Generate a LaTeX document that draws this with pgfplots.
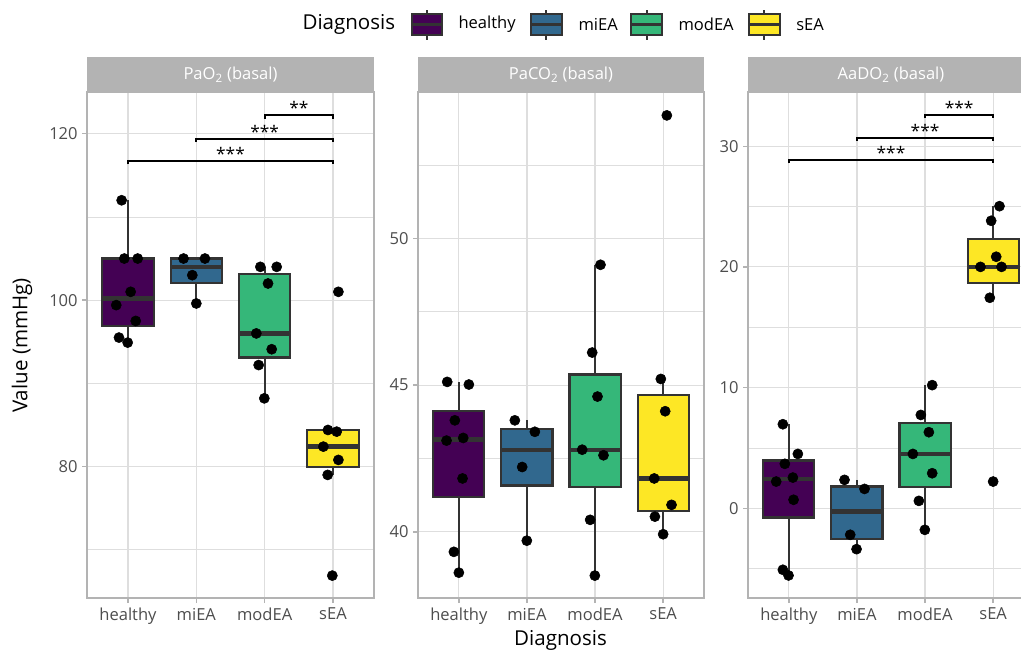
\documentclass[border=0pt]{standalone}
\usepackage{fontspec}
\setmainfont{Open Sans}
\usepackage{pgfplots}
\pgfplotsset{compat=1.18}
\usepgfplotslibrary{statistics}
\definecolor{c70}{HTML}{B3B3B3}
\definecolor{c87}{HTML}{DEDEDE}
\definecolor{c30}{HTML}{4D4D4D}
\definecolor{c20}{HTML}{333333}
\definecolor{vA}{HTML}{440154}
\definecolor{vB}{HTML}{31688E}
\definecolor{vC}{HTML}{35B779}
\definecolor{vD}{HTML}{FDE725}
\newcommand{\ticksize}{\fontsize{12.4}{14}\selectfont}
\newcommand{\titlesize}{\fontsize{15.4}{18}\selectfont}
\tikzset{st/.style={font=\fontsize{13}{15}\selectfont, anchor=base, inner sep=0pt, yshift=0.3pt}}
\pgfplotsset{
 panel/.style={
  scale only axis, anchor=south west, height=379.5pt,
  xmin=0.4, xmax=4.6, xtick={1,2,3,4}, xticklabels={healthy,miEA,modEA,sEA},
  axis line style={draw=c70, line width=1.5pt},
  xmajorgrids, ymajorgrids, yminorgrids,
  major grid style={draw=c87, line width=0.9pt},
  minor grid style={draw=c87, line width=0.5pt},
  tick align=outside, tick pos=left,
  major tick style={draw=c70, line width=1pt},
  major tick length=3.5pt, minor tick length=0pt,
  tick label style={font=\ticksize, text=c30},
  /pgf/number format/assume math mode=true,
  boxplot/draw direction=y,
  boxplot/box extend=0.75, boxplot/whisker extend=0,
  boxplot/every median/.style={line width=3.2pt},
 },
 bx/.style={draw=c20, line width=1.6pt, fill=#1, solid},
 pts/.style={only marks, mark=*, mark size=3.8pt, black},
 br/.style={black, line width=1.4pt},
}
\begin{document}
\begin{tikzpicture}
\path[use as bounding box, clip] (0,0) rectangle (765.75pt,489.75pt);
% ---------- Panel 1: PaO2 ----------
\begin{axis}[panel, at={(65.25pt,40.875pt)}, width=215.25pt,
  ymin=64.15, ymax=124.95, ytick={80,100,120}, minor ytick={70,90,110}]
\addplot[bx=vA, boxplot prepared={lower whisker=94.9, lower quartile=96.9, median=100.2, upper quartile=105.0, upper whisker=112.0, draw position=1}] coordinates {};
\addplot[bx=vB, boxplot prepared={lower whisker=99.6, lower quartile=102.1, median=104.0, upper quartile=105.0, upper whisker=105.0, draw position=2}] coordinates {};
\addplot[bx=vC, boxplot prepared={lower whisker=88.2, lower quartile=93.1, median=96.0, upper quartile=103.1, upper whisker=104.0, draw position=3}] coordinates {};
\addplot[bx=vD, boxplot prepared={lower whisker=79.0, lower quartile=79.9, median=82.4, upper quartile=84.4, upper whisker=84.4, draw position=4}] coordinates {};
\addplot[pts] coordinates {
 (0.907,112.0) (0.946,105.0) (1.142,105.0) (1.039,101.0) (0.828,99.4) (1.113,97.5) (0.868,95.5) (0.995,94.9)
 (1.813,105.0) (2.126,105.0) (1.941,103.0) (2.000,99.6)
 (2.937,104.0) (3.176,104.0) (3.049,102.0) (2.878,96.0) (3.103,94.1) (2.912,92.2) (2.995,88.2)
 (4.079,101.0) (3.926,84.4) (4.054,84.2) (3.859,82.4) (4.079,80.8) (3.922,79.0) (3.990,66.9)};
\addplot[br] coordinates {(3,121.8) (3,122.2) (4,122.2) (4,121.8)};
\addplot[br] coordinates {(2,119.0) (2,119.4) (4,119.4) (4,119.0)};
\addplot[br] coordinates {(1,116.3) (1,116.7) (4,116.7) (4,116.3)};
\node[st] at (axis cs:3.5,122.2) {**};
\node[st] at (axis cs:3.0,119.4) {***};
\node[st] at (axis cs:2.5,116.7) {***};
\end{axis}
% ---------- Panel 2: PaCO2 ----------
\begin{axis}[panel, at={(313.5pt,40.875pt)}, width=214.5pt,
  ymin=37.73, ymax=54.97, ytick={40,45,50}, minor ytick={42.5,47.5,52.5}]
\addplot[bx=vA, boxplot prepared={lower whisker=38.61, lower quartile=41.18, median=43.15, upper quartile=44.11, upper whisker=45.11, draw position=1}] coordinates {};
\addplot[bx=vB, boxplot prepared={lower whisker=39.70, lower quartile=41.58, median=42.80, upper quartile=43.51, upper whisker=43.80, draw position=2}] coordinates {};
\addplot[bx=vC, boxplot prepared={lower whisker=38.51, lower quartile=41.52, median=42.80, upper quartile=45.36, upper whisker=49.10, draw position=3}] coordinates {};
\addplot[bx=vD, boxplot prepared={lower whisker=39.92, lower quartile=40.70, median=41.82, upper quartile=44.67, upper whisker=45.21, draw position=4}] coordinates {};
\addplot[pts] coordinates {
 (0.829,45.11) (1.147,45.02) (0.941,43.80) (0.819,43.11) (1.064,43.20) (1.054,41.82) (0.927,39.32) (1.000,38.61)
 (1.822,43.80) (2.116,43.41) (1.930,42.21) (1.998,39.70)
 (3.080,49.10) (2.958,46.11) (3.036,44.61) (2.811,42.80) (3.124,42.61) (2.928,40.41) (2.997,38.51)
 (4.054,54.19) (3.966,45.21) (4.030,44.11) (3.869,41.82) (4.123,40.92) (3.879,40.52) (4.000,39.92)};
\end{axis}
% ---------- Panel 3: AaDO2 ----------
\begin{axis}[panel, at={(561pt,40.875pt)}, width=214.5pt,
  ymin=-7.48, ymax=34.45, ytick={0,10,20,30}, minor ytick={-5,5,15,25}]
\addplot[bx=vA, boxplot prepared={lower whisker=-5.57, lower quartile=-0.77, median=2.43, upper quartile=3.95, upper whisker=6.96, draw position=1}] coordinates {};
\addplot[bx=vB, boxplot prepared={lower whisker=-3.39, lower quartile=-2.53, median=-0.28, upper quartile=1.80, upper whisker=2.35, draw position=2}] coordinates {};
\addplot[bx=vC, boxplot prepared={lower whisker=-1.79, lower quartile=1.74, median=4.50, upper quartile=7.04, upper whisker=10.2, draw position=3}] coordinates {};
\addplot[bx=vD, boxplot prepared={lower whisker=17.44, lower quartile=18.69, median=20.0, upper quartile=22.3, upper whisker=25.03, draw position=4}] coordinates {};
\addplot[pts] coordinates {
 (0.912,6.96) (1.132,4.50) (0.941,3.68) (0.814,2.21) (1.059,2.54) (1.069,0.70) (0.912,-5.10) (0.995,-5.57)
 (1.817,2.35) (2.111,1.60) (1.901,-2.20) (1.994,-3.39)
 (3.105,10.2) (2.938,7.73) (3.056,6.30) (2.821,4.50) (3.105,2.90) (2.909,0.61) (2.997,-1.79)
 (4.093,25.03) (3.971,23.82) (4.045,20.84) (3.814,20.0) (4.123,20.0) (3.951,17.44) (4.000,2.21)};
\addplot[br] coordinates {(3,32.30) (3,32.57) (4,32.57) (4,32.30)};
\addplot[br] coordinates {(2,30.42) (2,30.69) (4,30.69) (4,30.42)};
\addplot[br] coordinates {(1,28.57) (1,28.84) (4,28.84) (4,28.57)};
\node[st] at (axis cs:3.5,32.57) {***};
\node[st] at (axis cs:3.0,30.69) {***};
\node[st] at (axis cs:2.5,28.84) {***};
\end{axis}
% ---------- Strips ----------
\fill[c70] (65.25pt,420.375pt) rectangle (280.5pt,447pt);
\fill[c70] (313.5pt,420.375pt) rectangle (528pt,447pt);
\fill[c70] (561pt,420.375pt) rectangle (775.5pt,447pt);
\node[text=white, font=\ticksize] at (172.875pt,433.7pt) {PaO\textsubscript{2} (basal)};
\node[text=white, font=\ticksize] at (420.75pt,433.7pt) {PaCO\textsubscript{2} (basal)};
\node[text=white, font=\ticksize] at (668.25pt,433.7pt) {AaDO\textsubscript{2} (basal)};
% ---------- Axis titles ----------
\node[rotate=90, font=\titlesize] at (16.5pt,230.6pt) {Value (mmHg)};
\node[font=\titlesize] at (420.4pt,9.75pt) {Diagnosis};
% ---------- Legend ----------
\node[anchor=west, font=\titlesize, inner sep=0pt] at (226.7pt,471.4pt) {Diagnosis};
\foreach \cx/\col/\lab/\tx in {320.25/vA/healthy/343.7, 409.76/vB/miEA/433.7, 485.0/vC/modEA/508.7, 573.2/vD/sEA/597.0}{
  \draw[c20, line width=1.4pt] (\cx pt,459.75pt) -- (\cx pt,482.25pt);
  \filldraw[fill=\col, draw=c20, line width=1.5pt] (\cx pt-11.5pt,463.5pt) rectangle (\cx pt+11.5pt,479.25pt);
  \draw[c20, line width=2.2pt] (\cx pt-11.5pt,471.4pt) -- (\cx pt+11.5pt,471.4pt);
  \node[anchor=west, font=\ticksize, inner sep=0pt] at (\tx pt,471.4pt) {\lab};
}
\end{tikzpicture}
\end{document}
